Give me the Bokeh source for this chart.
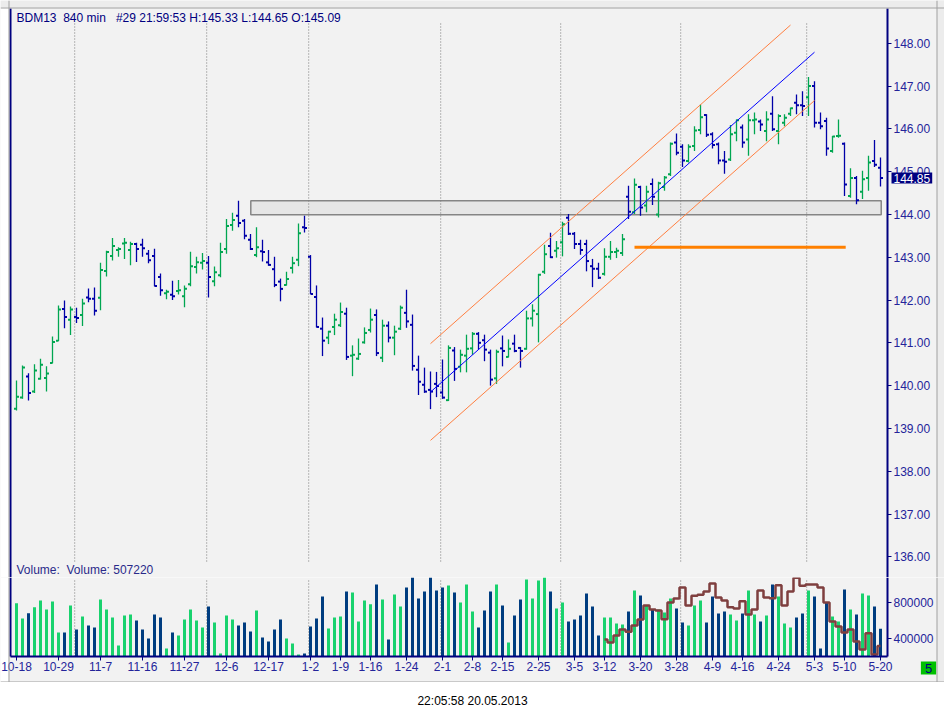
from bokeh.plotting import figure
from bokeh.layouts import column
from bokeh.models import Range1d, LinearAxis, FixedTicker, PrintfTickFormatter, Label, Span, BoxAnnotation
from bokeh.embed import file_html
from bokeh.resources import INLINE

# ---------------- data ----------------
tick_idx = [0, 7, 14, 21, 28, 35, 42, 49, 54, 59, 65, 71, 76, 81, 87, 93, 98, 104, 110, 116, 121, 127, 133, 138, 144]
tick_labels = ["10-18", "10-29", "11-7", "11-16", "11-27", "12-6", "12-17", "1-2", "1-9", "1-16", "1-24", "2-1",
               "2-8", "2-15", "2-25", "3-5", "3-12", "3-20", "3-28", "4-9", "4-16", "4-24", "5-3", "5-10", "5-20"]
month_last_bar = [9, 31, 48, 70, 90, 110, 131]

opens = [139.46,139.72,140.21,139.86,140.16,140.18,140.53,141.05,141.79,141.54,
141.60,141.65,142.06,142.03,142.05,142.68,143.03,143.17,143.32,143.17,
143.31,143.29,143.08,143.03,142.54,142.16,142.12,142.21,142.09,142.37,
142.77,142.87,142.87,142.44,142.58,143.19,143.75,143.97,143.85,143.41,
143.05,143.14,142.88,142.72,142.43,142.35,142.75,142.94,143.70,143.01,
142.07,141.33,141.12,141.37,141.41,141.68,140.70,140.63,141.01,141.30,
141.65,140.65,141.40,141.12,141.33,141.70,141.42,140.37,140.02,139.90,
140.04,139.84,139.66,140.82,140.44,140.70,140.87,141.21,141.06,140.77,
140.17,140.87,140.67,140.98,140.88,140.86,141.57,141.67,142.66,143.26,
143.15,143.35,143.92,143.55,143.31,143.31,142.79,142.73,142.61,143.01,
143.12,143.10,144.41,144.05,144.64,144.21,144.71,144.00,144.64,144.94,
145.68,145.58,145.25,145.60,145.97,146.32,145.87,145.64,145.26,145.28,
145.91,146.03,145.75,146.20,146.17,145.95,146.35,145.95,146.14,146.35,
146.61,146.55,146.74,147.00,146.14,146.18,145.48,145.83,145.65,144.43,
144.85,144.53,144.85,145.25,145.09]

highs = [140.12,140.47,140.29,140.50,140.63,140.45,141.15,141.87,141.99,141.85,
141.82,142.03,142.27,142.29,142.87,143.15,143.45,143.23,143.45,143.36,
143.34,143.43,143.17,143.20,142.62,142.24,142.45,142.47,142.34,143.13,
143.01,143.10,143.03,142.78,143.34,143.89,144.04,144.32,143.89,143.54,
143.70,143.41,143.17,143.01,142.50,142.66,143.01,143.79,143.97,143.05,
142.34,141.59,141.28,141.68,141.94,141.82,140.94,141.10,141.36,141.80,
141.78,141.54,141.50,141.40,141.87,142.24,141.66,140.70,140.42,140.33,
140.32,140.61,140.94,140.90,140.84,141.19,141.25,141.25,141.19,140.84,
140.84,141.17,141.08,141.19,140.90,141.75,141.90,142.61,143.29,143.57,
143.38,143.83,144.01,143.59,143.41,143.41,142.96,142.87,143.21,143.38,
143.22,143.54,144.67,144.84,144.67,144.67,144.84,144.76,144.90,145.68,
145.89,145.64,145.64,146.06,146.57,146.34,145.92,145.68,145.48,146.09,
146.22,146.10,146.34,146.38,146.22,146.41,146.76,146.34,146.34,146.49,
146.80,146.88,147.21,147.11,146.38,146.26,145.83,146.22,145.68,145.08,
144.90,145.02,145.37,145.74,145.33]

lows = [139.42,139.69,139.65,139.83,140.14,139.86,140.52,141.04,141.34,141.18,
141.46,141.39,141.95,141.64,141.76,142.55,142.92,143.01,142.96,142.81,
142.89,143.01,142.86,142.32,142.10,142.02,142.00,142.13,141.83,142.32,
142.62,142.71,142.06,142.32,142.53,143.08,143.62,143.70,143.42,143.17,
143.00,142.90,142.80,142.30,141.97,142.34,142.62,142.79,143.58,142.14,
141.36,140.69,140.97,141.18,141.37,140.60,140.22,140.60,140.98,141.24,
140.69,140.55,141.01,140.71,141.30,141.35,140.35,139.78,139.83,139.45,
139.73,139.69,139.64,140.11,140.31,140.31,140.72,140.84,140.57,140.00,
140.04,140.45,140.66,140.78,140.42,140.84,141.38,141.01,142.61,142.98,
142.99,143.02,143.52,143.19,143.06,142.67,142.30,142.49,142.57,142.94,
142.98,143.03,143.89,144.01,143.97,144.05,144.22,143.93,144.55,144.90,
145.38,145.11,145.21,145.48,145.87,145.81,145.54,145.17,144.95,145.25,
145.71,145.56,145.37,145.87,145.95,145.71,145.95,145.64,146.06,146.30,
146.34,146.30,146.30,146.03,145.99,145.37,145.44,145.79,144.43,144.39,
144.24,144.36,144.55,145.11,144.65]

closes = [139.74,140.42,139.83,140.35,140.49,140.28,141.02,141.78,141.60,141.78,
141.58,141.92,142.03,141.75,142.70,143.12,143.26,143.19,143.34,143.31,
143.19,143.21,142.93,142.33,142.23,142.19,142.09,142.23,142.26,142.79,
142.88,142.91,142.54,142.65,143.12,143.73,143.87,143.80,143.50,143.19,
143.23,143.12,142.82,142.35,142.26,142.49,142.86,143.56,143.68,142.14,
141.37,141.05,141.26,141.54,141.72,140.67,140.72,140.74,141.23,141.54,
140.76,141.40,141.12,141.26,141.82,141.50,140.46,140.09,139.86,139.86,
139.99,139.72,140.88,140.39,140.72,140.86,141.21,141.00,140.84,140.14,
140.79,140.81,140.86,140.81,140.81,141.57,141.75,142.59,143.07,143.00,
143.21,143.77,143.55,143.31,143.17,142.91,142.73,142.52,143.01,143.12,
143.15,143.42,144.06,144.69,144.16,144.53,144.41,144.73,144.86,145.65,
145.44,145.26,145.58,145.96,146.27,145.86,145.62,145.26,145.23,145.87,
146.20,145.68,146.20,146.22,146.10,146.22,145.99,146.30,146.26,146.48,
146.55,146.53,147.00,146.14,146.06,145.54,145.82,145.84,144.70,144.85,
144.33,144.82,145.21,145.16,144.85]

volumes = [792000,620000,680000,748000,822000,721000,811000,464000,464000,766000,
497000,643000,542000,520000,834000,721000,632000,318000,654000,665000,
598000,497000,396000,665000,632000,284000,464000,430000,609000,721000,
598000,520000,755000,576000,228000,654000,609000,542000,576000,475000,
710000,407000,363000,497000,609000,396000,340000,217000,228000,531000,
620000,867000,508000,632000,643000,923000,912000,587000,822000,781000,
1002000,834000,385000,890000,755000,968000,1080000,845000,923000,1080000,
935000,968000,990000,912000,800000,1002000,699000,520000,710000,923000,
1002000,766000,351000,654000,834000,1058000,845000,1047000,1080000,923000,
733000,800000,587000,609000,654000,901000,755000,430000,632000,632000,
564000,553000,699000,935000,878000,766000,721000,721000,688000,845000,
733000,576000,542000,766000,822000,576000,867000,677000,699000,665000,
598000,677000,935000,665000,587000,654000,1002000,867000,564000,520000,
632000,677000,935000,867000,284000,800000,643000,587000,946000,721000,
665000,901000,878000,755000,507220]

oi_start = 98
oi_values = [385000,351000,430000,497000,471000,542000,609000,766000,721000,710000,
613000,800000,845000,968000,766000,875000,886000,923000,1013000,856000,
822000,748000,733000,815000,665000,721000,935000,856000,849000,994000,
766000,923000,1077000,987000,1002000,1002000,968000,800000,587000,531000,
464000,497000,363000,273000,456000,217000,314000]

channel_x = [69, 133]
channel_mid = [139.85, 147.79]
channel_half = 1.13
channel_upper_end = 129
level_price = 143.23
level_x = [103, 138.2]
zone_x = [39.05, 144.12]
zone_y = [143.99, 144.32]
last_price = 144.85
header_text = "BDM13\u00a0 840 min\u00a0\u00a0 #29 21:59:53 H:145.33 L:144.65 O:145.09"
volume_text = "Volume:\u00a0 Volume: 507220"
stamp_text = "22:05:58 20.05.2013"

# ---------------- geometry / styling ----------------
BG = "#f2f2f2"
NAVY = "#000080"
AX_TXT = "#24249a"
UP, DN = "#00a651", "#0000a8"
VUP, VDN = "#19d26e", "#003d80"
FRAME = "#a0a0a0"
FONT = "Liberation Sans"
W = 944
H_PRICE, H_VOL, H_FOOT = 577, 105, 34

# page-pixel -> data helpers (used only for placing annotations and ranges)
def xd(px): return (px - 16) / 6.0
def yd(py): return 148 - (py - 42.7) / 42.8
def vd(py): return 400000 + (637.7 - py) * 400000 / 35.7

X_LO, X_HI = xd(0), xd(W)
X_AX_L, X_AX_R = xd(10), xd(887)
P_LO, P_HI = yd(H_PRICE), yd(0)
V_LO, V_HI = vd(H_PRICE + H_VOL), vd(H_PRICE)
V_BASE = vd(656)

n = len(closes)
idx = list(range(n))
pcol = [UP if c >= o else DN for o, c in zip(opens, closes)]
vcol = [VUP if c >= o else VDN for o, c in zip(opens, closes)]

def style_axis(ax):
    ax.axis_line_color = NAVY
    ax.axis_line_width = 2
    ax.major_tick_line_color = NAVY
    ax.major_tick_out = 4
    ax.major_tick_in = 0
    ax.minor_tick_line_color = None
    ax.major_label_standoff = 2
    ax.major_label_text_font = FONT
    ax.major_label_text_font_size = "12px"
    ax.major_label_text_color = AX_TXT

def add_left_line(fig, bounds):
    ax = LinearAxis(ticker=FixedTicker(ticks=[]), axis_line_color=NAVY, axis_line_width=2,
                    major_tick_out=0, major_tick_in=0, minor_tick_line_color=None,
                    major_label_standoff=0, fixed_location=X_AX_L, bounds=bounds)
    fig.add_layout(ax, "left")

def add_frame(fig):
    fig.add_layout(BoxAnnotation(right=xd(8), fill_color="white", fill_alpha=1, line_color=None, level="underlay"))
    fig.add_layout(BoxAnnotation(left=xd(936.5), fill_color="#ececec", fill_alpha=1, line_color=None, level="underlay"))
    fig.add_layout(Span(location=xd(8.5), dimension="height", line_color=FRAME, line_width=1))
    fig.add_layout(Span(location=xd(936.5), dimension="height", line_color=FRAME, line_width=1))

def new_fig(h, yr):
    f = figure(width=W, height=h, x_range=Range1d(X_LO, X_HI), y_range=yr,
               output_backend="svg", toolbar_location=None, x_axis_location=None,
               y_axis_location="right", min_border=0, background_fill_color=BG,
               border_fill_color=BG, outline_line_color=None)
    f.grid.visible = False
    return f

# ---------------- price pane ----------------
p = new_fig(H_PRICE, Range1d(P_LO, P_HI))
ya = p.yaxis[0]
style_axis(ya)
ya.ticker = FixedTicker(ticks=list(range(136, 149)))
ya.formatter = PrintfTickFormatter(format="%.2f")
ya.fixed_location = X_AX_R
ya.bounds = (P_LO, yd(8))
add_left_line(p, (P_LO, yd(8)))
add_frame(p)
p.add_layout(BoxAnnotation(bottom=yd(7), fill_color="#ececec", fill_alpha=1, line_color=None, level="underlay"))
p.add_layout(Span(location=yd(7.5), dimension="width", line_color=FRAME, line_width=1))

p.quad(left=[zone_x[0]], right=[zone_x[1]], bottom=[zone_y[0]], top=[zone_y[1]],
       fill_color="#e6e6e6", line_color="#858585", line_width=1.5)

sep_x = [m + 0.7 for m in month_last_bar]
p.segment(x0=sep_x, x1=sep_x, y0=[yd(561)] * len(sep_x), y1=[yd(23)] * len(sep_x),
          line_color="#7a7a7a", line_width=1, line_dash="1 2")

off = 2.5 / 6.0
p.segment(x0=idx, x1=idx, y0=lows, y1=highs, line_color=pcol, line_width=1.3)
p.segment(x0=[i - off for i in idx], x1=idx, y0=opens, y1=opens, line_color=pcol, line_width=2)
p.segment(x0=idx, x1=[i + off for i in idx], y0=closes, y1=closes, line_color=pcol, line_width=2)

slope = (channel_mid[1] - channel_mid[0]) / (channel_x[1] - channel_x[0])
p.line(x=channel_x, y=channel_mid, line_color="#0000ff", line_width=1)
p.line(x=[channel_x[0], channel_upper_end],
       y=[channel_mid[0] + channel_half, channel_mid[0] + channel_half + slope * (channel_upper_end - channel_x[0])],
       line_color="#ff7f40", line_width=1)
p.line(x=channel_x, y=[v - channel_half for v in channel_mid], line_color="#ff7f40", line_width=1)
p.line(x=level_x, y=[level_price, level_price], line_color="#ff8000", line_width=3)

p.add_layout(Label(x=xd(16), y=yd(10), text=header_text, text_font=FONT,
                   text_font_size="12px", text_color=NAVY, text_baseline="top", text_align="left"))
p.add_layout(Label(x=xd(891), y=last_price, text="144.85", text_font=FONT,
                   text_font_size="12px", text_color="white", text_baseline="middle",
                   text_align="left", background_fill_color=NAVY, padding=(2, 1)))
p.add_layout(Label(x=xd(16), y=yd(569.5), text=volume_text, text_font=FONT,
                   text_font_size="12px", text_color="#2a2a8a", text_baseline="middle", text_align="left"))

# ---------------- volume pane ----------------
v = new_fig(H_VOL, Range1d(V_LO, V_HI))
v.x_range = p.x_range
vy = v.yaxis[0]
style_axis(vy)
vy.ticker = FixedTicker(ticks=[400000, 800000])
vy.formatter = PrintfTickFormatter(format="%d")
vy.fixed_location = X_AX_R
vy.bounds = (V_BASE, V_HI)
add_left_line(v, (V_BASE, V_HI))
add_frame(v)

xa = LinearAxis(ticker=FixedTicker(ticks=tick_idx), fixed_location=V_BASE, bounds=(X_AX_L, X_AX_R))
style_axis(xa)
xa.major_label_standoff = 1
xa.major_label_overrides = {t: s for t, s in zip(tick_idx, tick_labels)}
v.add_layout(xa, "below")

v.segment(x0=sep_x, x1=sep_x, y0=[V_BASE] * len(sep_x), y1=[vd(578)] * len(sep_x),
          line_color="#7a7a7a", line_width=1, line_dash="1 2")
v.vbar(x=idx, top=volumes, bottom=V_BASE, width=0.5, fill_color=vcol, line_color=None)
v.step(x=list(range(oi_start, oi_start + len(oi_values))), y=oi_values, mode="center",
       line_color="#7f3f3f", line_width=2.5)
v.add_layout(Label(x=xd(928), y=vd(667.5), text="5", text_font=FONT,
                   text_font_size="13px", text_color=NAVY, text_baseline="middle", text_align="center",
                   background_fill_color="#00c000", padding=(4, 2)))
v.add_layout(Span(location=vd(681.5), dimension="width", line_color=FRAME, line_width=1))

# ---------------- footer ----------------
f = figure(width=W, height=H_FOOT, x_range=Range1d(0, W), y_range=Range1d(0, H_FOOT),
           output_backend="svg", toolbar_location=None, x_axis_location=None, y_axis_location=None,
           min_border=0, background_fill_color="white", border_fill_color="white", outline_line_color=None)
f.grid.visible = False
f.add_layout(Label(x=472, y=H_FOOT - 18, text=stamp_text, text_font=FONT, text_font_size="12px",
                   text_color="black", text_align="center", text_baseline="middle"))

layout = column(p, v, f)
open("out.html", "w").write(file_html(layout, INLINE))
